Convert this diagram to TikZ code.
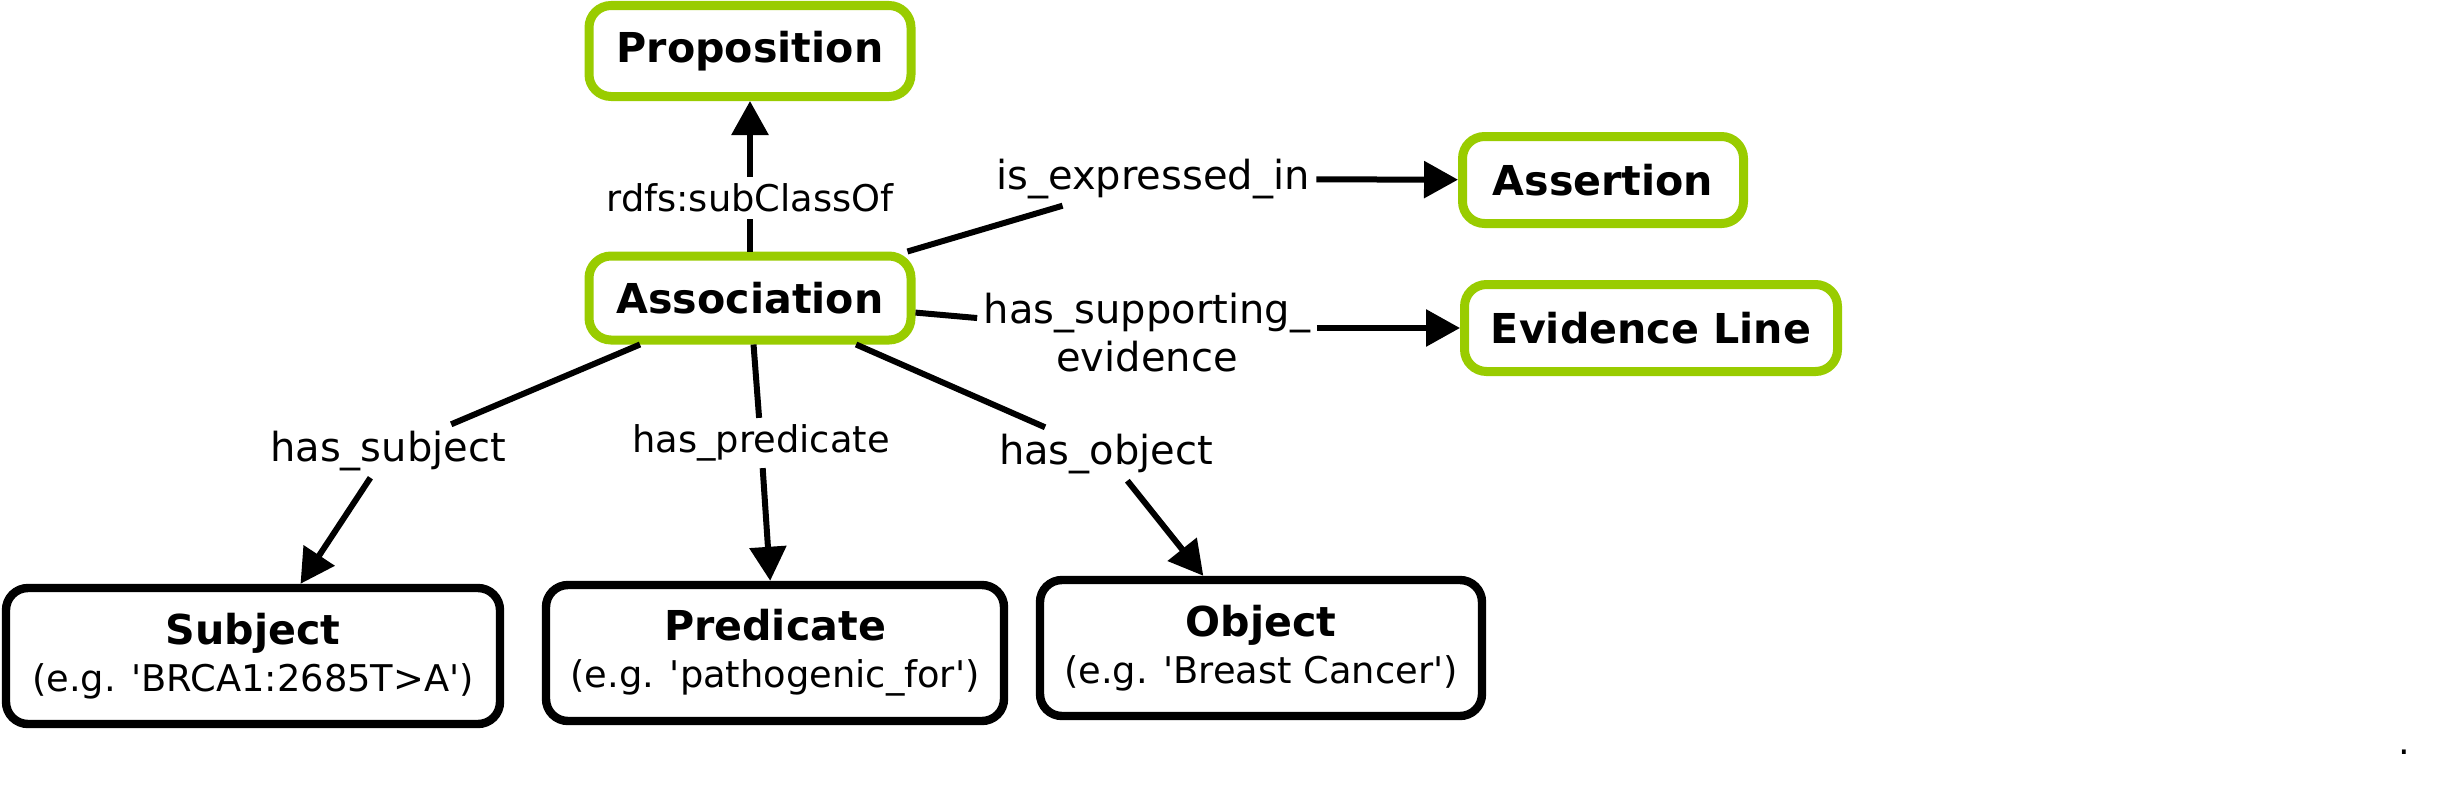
\documentclass[tikz,border=0pt]{standalone}
\usepackage{fontspec}
\newfontfamily\dv{DejaVu Sans}
\usetikzlibrary{arrows.meta}
\definecolor{lgreen}{RGB}{153,204,0}
\begin{document}
\begin{tikzpicture}[x=0.25pt,y=-0.25pt,
  gbox/.style={draw=lgreen, line width=2.25pt, rounded corners=5.5pt, fill=white, minimum width=#1, minimum height=21.75pt, inner sep=0pt, font=\dv\fontsize{10.3}{12}\selectfont\bfseries},
  bbox/.style={draw=black, line width=2.1pt, rounded corners=5.5pt, minimum width=#1, minimum height=34pt, inner sep=0pt, align=center, font=\dv\fontsize{9.2}{11.75}\selectfont},
  lab/.style={font=\dv\fontsize{9.2}{11}\selectfont, inner sep=1.5pt, align=center},
  labl/.style={lab, font=\dv\fontsize{10}{12}\selectfont},
  conn/.style={line width=1.5pt},
  arr/.style={line width=1.5pt, -{Triangle[length=8.5pt,width=9pt]}},
]
\useasboundingbox (0,0) rectangle (2440,792);
\node[gbox=80.5pt, minimum height=22.75pt] (prop) at (750,51) {Proposition};
\node[gbox=80.5pt, minimum height=21pt] (assoc) at (750,298) {Association};
\node[gbox=70.25pt] (asrt) at (1603,180) {Assertion};
\node[gbox=93.25pt] (evid) at (1651,328) {Evidence Line};
\node[bbox=123.5pt] (subj) at (253,656) {{\bfseries\fontsize{10.3}{12}\selectfont Subject}\\(e.g. 'BRCA1:2685T>A')};
\node[bbox=114.5pt] (pred) at (775,653) {{\bfseries\fontsize{10.3}{12}\selectfont Predicate}\\(e.g. 'pathogenic\_for')};
\node[bbox=110.5pt] (obj) at (1261,648) {{\bfseries\fontsize{10.3}{12}\selectfont Object}\\(e.g. 'Breast Cancer')};
\node[lab] (lrdfs) at (750,198) {rdfs:subClassOf};
\node[labl] (lexp) at (1153,179) {is\_expressed\_in};
\node[labl] (lsup) at (1147,333) {has\_supporting\_\\evidence};
\node[labl] (lsub) at (388,451) {has\_subject};
\node[lab] (lpred) at (761,443) {has\_predicate};
\node[labl] (lobj) at (1106,454) {has\_object};
\node[lab, inner sep=0pt] (dot) at (2404,752) {.};
\draw[conn] (assoc) -- (lrdfs);
\draw[arr] (lrdfs) -- (prop);
\draw[conn] (assoc) -- (lexp);
\draw[arr] (lexp) -- (asrt);
\draw[conn] (assoc) -- (lsup);
\draw[arr] (lsup.east |- evid.west) -- (evid);
\draw[conn] (assoc) -- (lsub);
\draw[arr] (lsub) -- (subj);
\draw[conn] (assoc) -- (lpred);
\draw[arr] (lpred) -- (pred);
\draw[conn] (assoc) -- (lobj);
\draw[arr] (lobj) -- (obj);
\end{tikzpicture}
\end{document}
